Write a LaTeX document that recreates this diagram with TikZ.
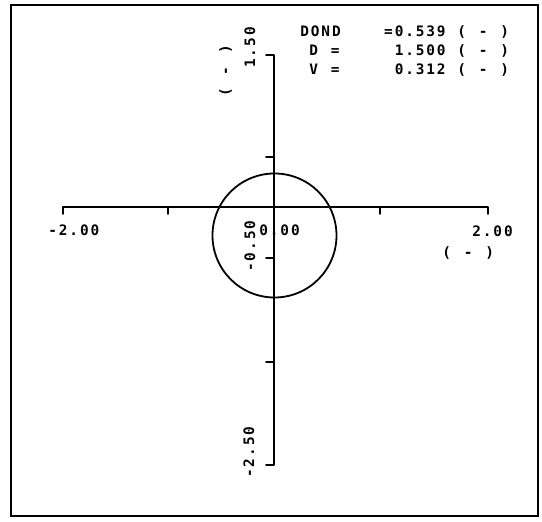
\documentclass[tikz,border=0pt]{standalone}
\usepackage{fontspec}
\usepackage{tikz}
\newfontfamily\plotfont[LetterSpace=13, WordSpace=1.22]{DejaVu Sans Mono}

\begin{document}
\begin{tikzpicture}[
    x=0.5pt, y=-0.5pt,
    axisline/.style = {line width=0.9pt, line cap=round, line join=round},
    plottext/.style = {font=\plotfont\bfseries\fontsize{7.2}{8}\selectfont, inner sep=0pt, anchor=base west},
    ylabel/.style = {plottext, rotate=90}
]
\useasboundingbox (0,0) rectangle (542,522);

% parameters
\node [plottext] (bondname) at (300,37) {DOND};
\node [plottext, anchor=base east] (bondval) at (446,37) {=0.539};
\node [plottext] (bondunit) at (457,37) {( - )};

\node [plottext] (dname) at (309,56) {D =};
\node [plottext, anchor=base east] (dval) at (446,56) {1.500};
\node [plottext] (dunit) at (457,56) {( - )};

\node [plottext] (vname) at (309,75) {V =};
\node [plottext, anchor=base east] (vval) at (446,75) {0.312};
\node [plottext] (vunit) at (457,75) {( - )};

% axis labels
\node [plottext] (xmin) at (48,236) {-2.00};
\node [plottext] (xzero) at (259,236) {0.00};
\node [plottext] (xmax) at (472,237) {2.00};
\node [plottext] (xunit) at (442,258) {( - )};

\node [ylabel] (ymax) at (255,68) {1.50};
\node [ylabel] (ymid) at (255,272) {-0.50};
\node [ylabel] (ymin) at (254,478) {-2.50};
\node [ylabel] (yunit) at (230,97) {( - )};

% frame
\draw[line width=1.3pt] (11,5) rectangle (538,516);

% horizontal axis
\draw[axisline] (63,214) -- (63,207) -- (488,207) -- (488,214);
\draw[axisline] (168,207) -- (168,214);
\draw[axisline] (380,207) -- (380,214);

% vertical axis
\draw[axisline] (266,55) -- (274,55) -- (274,465) -- (266,465);
\draw[axisline] (274,157) -- (266,157);
\draw[axisline] (274,258) -- (266,258);
\draw[axisline] (274,362) -- (266,362);

% circle
\draw[axisline] (274.5,235.5) circle (62);

\end{tikzpicture}
\end{document}
